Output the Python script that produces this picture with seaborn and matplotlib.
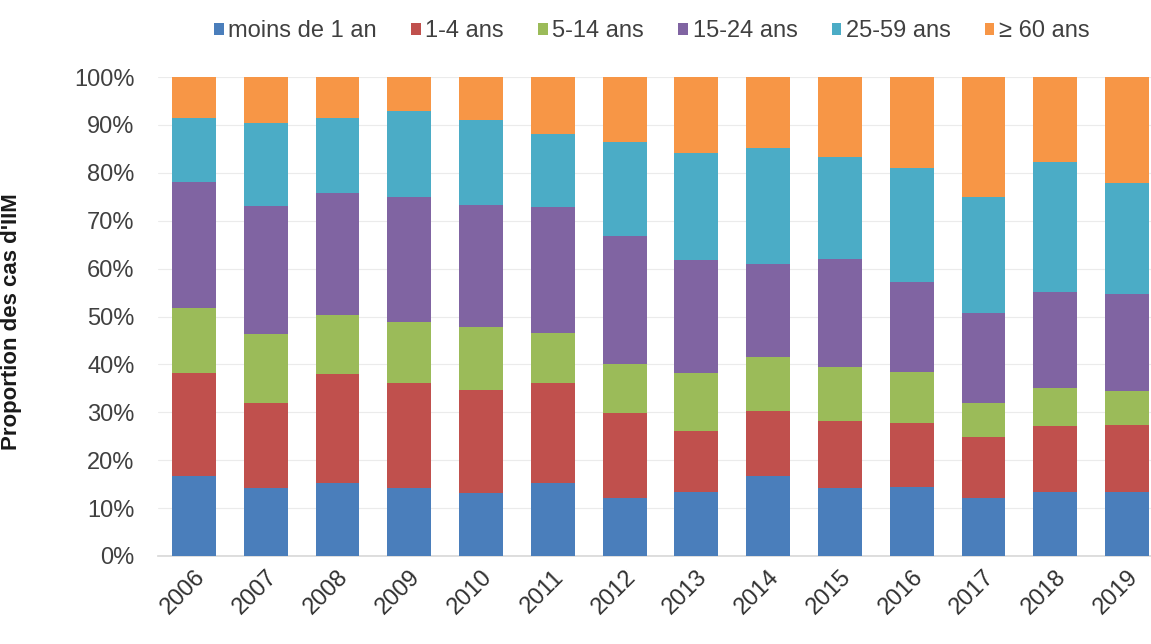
import numpy as np
import pandas as pd
import matplotlib
matplotlib.use("Agg")
import matplotlib.pyplot as plt
import seaborn as sns
from matplotlib.patches import Patch

years = ["2006", "2007", "2008", "2009", "2010", "2011", "2012",
         "2013", "2014", "2015", "2016", "2017", "2018", "2019"]
groups = ["moins de 1 an", "1-4 ans", "5-14 ans", "15-24 ans", "25-59 ans", "≥ 60 ans"]

moins_1 = [16.7, 14.1, 15.2, 14.3, 13.1, 15.3, 12.2, 13.3, 16.6, 14.3, 14.5, 12.2, 13.3, 13.4]
ans_1_4 = [21.5, 17.8, 22.9, 21.8, 21.6, 20.8, 17.6, 12.8, 13.7, 13.9, 13.3, 12.7, 13.9, 13.9]
ans_5_14 = [13.5, 14.4, 12.2, 12.8, 13.2, 10.4, 10.2, 12.2, 11.3, 11.3, 10.7, 7.0, 7.8, 7.1]
ans_15_24 = [26.4, 26.8, 25.4, 26.1, 25.4, 26.4, 26.8, 23.5, 19.4, 22.6, 18.8, 18.8, 20.2, 20.4]
ans_25_59 = [13.3, 17.2, 15.7, 17.8, 17.7, 15.2, 19.6, 22.3, 24.1, 21.3, 23.6, 24.3, 27.1, 23.0]
ans_60 = [8.6, 9.7, 8.6, 7.2, 9.0, 11.9, 13.6, 15.9, 14.9, 16.6, 19.1, 25.0, 17.7, 22.2]

colors = ["#4A7EBB", "#C0504D", "#9BBB59", "#8064A2", "#4BACC6", "#F79646"]

series = [moins_1, ans_1_4, ans_5_14, ans_15_24, ans_25_59, ans_60]
df = pd.DataFrame({g: s for g, s in zip(groups, series)}, index=years) / 100.0

sns.set_theme(style="white")
plt.rcParams['font.family'] = ['Liberation Sans', 'DejaVu Sans']

fig = plt.figure(figsize=(11.51, 6.44), dpi=100)
ax = fig.add_axes([158 / 1151, 88 / 644, 1005 / 1151, 479 / 644])

bottom = np.zeros(len(years))
for g, c in zip(groups, colors):
    sns.barplot(x=years, y=df[g].values, bottom=bottom, color=c, width=0.61,
                ax=ax, saturation=1, linewidth=0, zorder=3)
    bottom = bottom + df[g].values

ax.set_ylim(0, 1.0)
ax.set_xlim(-0.5, len(years) - 0.5)
yt = np.arange(0, 1.01, 0.1)
ax.set_yticks(yt)
ax.set_yticklabels([f"{int(round(v * 100))}%" for v in yt], fontsize=17, color="#404040")
ax.yaxis.grid(True, color="#EBEBEB", linewidth=0.8, zorder=0)
ax.set_axisbelow(True)
ax.tick_params(axis="y", length=0, pad=17)
ax.tick_params(axis="x", length=0, pad=7)
ax.set_xticks(range(len(years)))
ax.set_xticklabels(years, rotation=45, ha="right", rotation_mode="anchor",
                   fontsize=17, color="#303030")
for sp in ["top", "right", "left"]:
    ax.spines[sp].set_visible(False)
ax.spines["bottom"].set_color("#D9D9D9")
ax.set_xlabel("")
ax.set_ylabel("Proportion des cas d'IIM", fontsize=16, fontweight="bold", color="#1a1a1a")
ax.yaxis.set_label_coords(-0.1353, 0.489)

handles = [Patch(facecolor=c, edgecolor="none") for c in colors]
fig.legend(handles, groups, loc="center", bbox_to_anchor=(652 / 1151, 1 - 31 / 644), ncol=6,
           frameon=False, fontsize=17, handlelength=0.4, handleheight=0.4,
           handletextpad=0.2, columnspacing=1.45, labelcolor="#404040")

fig.savefig("out.png", dpi=100)
